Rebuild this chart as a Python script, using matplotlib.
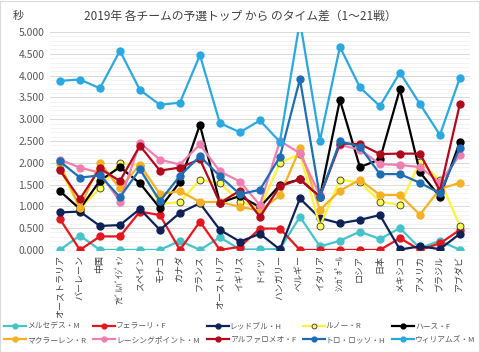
import matplotlib.pyplot as plt
from matplotlib.ticker import MultipleLocator, FormatStrFormatter
from matplotlib.patches import Rectangle

plt.rcParams['font.family'] = ['Noto Sans CJK JP', 'DejaVu Sans']

races = ["オーストラリア", "バーレーン", "中国", "ｱｾﾞﾙﾊﾞｲｼﾞｬﾝ", "スペイン", "モナコ", "カナダ",
         "フランス", "オーストリア", "イギリス", "ドイツ", "ハンガリー", "ベルギー", "イタリア",
         "ｼﾝｶﾞﾎﾟｰﾙ", "ロシア", "日本", "メキシコ", "アメリカ", "ブラジル", "アブダビ"]

mercedes = [0.0, 0.33, 0.0, 0.0, 0.0, 0.0, 0.21, 0.0, 0.29, 0.01, 0.01, 0.02, 0.76, 0.08,
            0.21, 0.42, 0.25, 0.50, 0.04, 0.21, 0.0]
ferrari = [0.71, 0.0, 0.31, 0.31, 0.88, 0.80, 0.0, 0.65, 0.0, 0.07, 0.49, 0.49, 0.0, 0.0,
           0.0, 0.0, 0.0, 0.27, 0.0, 0.15, 0.46]
redbull = [0.86, 0.88, 0.55, 0.57, 0.94, 0.46, 0.85, 1.07, 0.46, 0.19, 0.37, 0.01, 1.18, 0.73,
           0.61, 0.69, 0.80, 0.01, 0.08, 0.02, 0.37]
renault = [1.85, 0.96, 1.41, 2.00, 1.93, 1.05, 1.10, 1.61, 1.53, 1.11, 0.95, 2.00, 2.20, 0.54,
           1.61, 1.55, 1.11, 1.03, 2.02, 1.60, 0.55]
haas = [1.35, 0.94, 1.59, 1.90, 1.53, 0.96, 1.56, 2.87, 1.08, 1.24, 0.98, 1.49, 1.62, 1.22,
        3.44, 1.90, 2.08, 3.69, 1.78, 1.22, 2.48]
mclaren = [1.97, 0.96, 2.00, 1.41, 1.96, 1.28, 1.35, 1.10, 1.10, 0.99, 0.90, 1.25, 2.33, 0.92,
           1.36, 1.61, 1.26, 1.26, 0.81, 1.40, 1.54]
racing_point = [2.07, 1.89, 1.77, 1.11, 2.46, 2.07, 1.96, 2.42, 1.80, 1.57, 1.03, 2.50, 2.22, 1.25,
                2.41, 2.30, 1.97, 1.95, 1.90, 1.55, 2.18]
alfa = [1.83, 1.17, 1.87, 1.58, 2.39, 1.82, 1.89, 2.08, 1.08, 1.36, 0.76, 1.46, 1.62, 1.22,
        2.44, 2.43, 2.20, 2.21, 2.21, 1.36, 3.35]
toro_rosso = [2.03, 1.66, 1.71, 1.21, 1.85, 1.12, 1.70, 2.15, 1.69, 1.28, 1.38, 2.14, 3.92, 1.22,
              2.49, 2.37, 1.74, 1.74, 1.54, 1.30, 2.34]
williams = [3.88, 3.91, 3.71, 4.57, 3.67, 3.33, 3.38, 4.47, 2.91, 2.70, 2.97, 2.48, 5.25, 2.51,
            4.66, 3.73, 3.30, 4.07, 3.35, 2.64, 3.95]

teams = [
    ("メルセデス・M", mercedes, "#45C3C9"),
    ("フェラーリ・F", ferrari, "#E3171F"),
    ("レッドブル・H", redbull, "#0E2257"),
    ("ルノー・R", renault, "#FFF23A"),
    ("ハース・F", haas, "#000000"),
    ("マクラーレン・R", mclaren, "#F4B123"),
    ("レーシングポイント・M", racing_point, "#EE7FB0"),
    ("アルファロメオ・F", alfa, "#B0091E"),
    ("トロ・ロッソ・H", toro_rosso, "#1F6DB3"),
    ("ウィリアムズ・M", williams, "#2BA8DF"),
]

fig = plt.figure(figsize=(4.8, 3.52), dpi=100)
ax = fig.add_axes([0.104, 0.29, 0.875, 0.619])

x = list(range(len(races)))
handles = {}
for name, vals, color in teams:
    if name.startswith("ルノー"):
        h, = ax.plot(x, vals, color=color, lw=1.6, marker='o', markersize=5,
                     markerfacecolor="#FFFF55", markeredgecolor="#333333", markeredgewidth=0.6,
                     label=name)
    else:
        h, = ax.plot(x, vals, color=color, lw=1.6, marker='o', markersize=5, label=name)
    handles[name] = h

ax.set_xlim(-0.5, len(races) - 0.5)
ax.set_ylim(0, 5.0)
ax.yaxis.set_major_locator(MultipleLocator(0.5))
ax.yaxis.set_minor_locator(MultipleLocator(0.1))
ax.yaxis.set_major_formatter(FormatStrFormatter('%.3f'))
ax.grid(axis='y', which='major', color='#D9D9D9', lw=0.7)
ax.grid(axis='y', which='minor', color='#EFEFEF', lw=0.5)
ax.set_axisbelow(True)
for s in ax.spines.values():
    s.set_visible(False)
ax.tick_params(axis='both', which='both', length=0)
ax.tick_params(axis='y', labelsize=7.5, labelcolor='#595959', pad=4)
ax.set_xticks(x)
ax.set_xticklabels(races, rotation=90, fontsize=6.5, color='#404040', va='top')

fig.text(0.5, 0.955, "2019年 各チームの予選トップ から のタイム差（1～21戦）",
         ha='center', va='center', fontsize=8.5, color='#404040')
fig.text(0.027, 0.955, "秒", ha='left', va='center', fontsize=8, color='#404040')

order = ["メルセデス・M", "マクラーレン・R", "フェラーリ・F", "レーシングポイント・M",
         "レッドブル・H", "アルファロメオ・F", "ルノー・R", "トロ・ロッソ・H",
         "ハース・F", "ウィリアムズ・M"]
leg = fig.legend([handles[n] for n in order], order, loc='lower center', ncol=5,
                 bbox_to_anchor=(0.5, 0.005), frameon=False, fontsize=5.6,
                 handlelength=2.8, handletextpad=0.15, columnspacing=0.9,
                 labelspacing=0.7, markerscale=0.7, borderpad=0.3)
for t in leg.get_texts():
    t.set_color('#595959')

fig.patches.append(Rectangle((0.001, 0.001), 0.997, 0.997, transform=fig.transFigure,
                             fill=False, edgecolor='#D9D9D9', lw=0.8))

fig.savefig("out.png", dpi=100)
